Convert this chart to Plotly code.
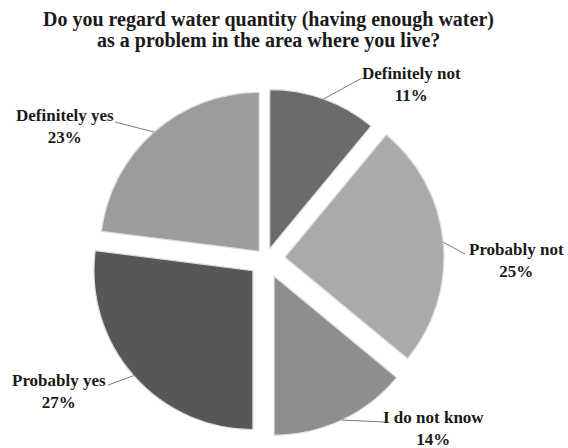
import math
import plotly.graph_objects as go

# Survey answers, clockwise from 12 o'clock
categories = ["Definitely not", "Probably not", "I do not know", "Probably yes", "Definitely yes"]
shares = [11, 25, 14, 27, 23]
slice_colors = ["#6b6b6b", "#aaaaaa", "#8e8e8e", "#575757", "#9c9c9c"]
pulls = [0.07, 0.12, 0.12, 0.11, 0.065]

title_lines = ["Do you regard water quantity (having enough water)",
               "as a problem in the area where you live?"]

W, H = 568, 448
FONT = "Liberation Serif, Times New Roman, serif"

# pie box (pixels) and label layout
pie_cx, pie_cy, pie_half = 266, 259, 178
label_centers = [(411, 85), (516, 260), (433, 428), (59, 391), (65, 127)]
leader_ends = [(362, 78), (465, 254), (385, 422), (108, 385), (115, 122)]
title_rows_y = [19, 40]

dom_x = [(pie_cx - pie_half) / W, (pie_cx + pie_half) / W]
dom_y = [1 - (pie_cy + pie_half) / H, 1 - (pie_cy - pie_half) / H]

fig = go.Figure(
    go.Pie(
        labels=categories,
        values=shares,
        sort=False,
        direction="clockwise",
        rotation=0,
        pull=pulls,
        marker=dict(colors=slice_colors, line=dict(color="#dcdcdc", width=1.2)),
        textinfo="none",
        hoverinfo="label+percent",
        domain=dict(x=dom_x, y=dom_y),
        showlegend=False,
    )
)

# radius as plotly computes it for a pulled pie
box = min((dom_x[1] - dom_x[0]) * W, (dom_y[1] - dom_y[0]) * H)
radius = box / (2 + 2 * max(pulls))
total = sum(shares)

shapes = []
annotations = []
start = 0.0
for name, v, p, (lx, ly), (ex, ey) in zip(categories, shares, pulls, label_centers, leader_ends):
    frac = v / total
    mid = (start + frac / 2) * 2 * math.pi
    start += frac
    rr = radius * (1 + p)
    ax_px = pie_cx + rr * math.sin(mid)
    ay_px = pie_cy - rr * math.cos(mid)
    shapes.append(dict(
        type="line", xref="paper", yref="paper",
        x0=ax_px / W, y0=1 - ay_px / H, x1=ex / W, y1=1 - ey / H,
        line=dict(color="#7a7a7a", width=1),
    ))
    annotations.append(dict(
        x=lx / W, y=1 - ly / H, xref="paper", yref="paper",
        text=f"{name}<br>{round(frac * 100)}%",
        showarrow=False, xanchor="center", yanchor="middle",
        font=dict(family=FONT, size=17, color="#1a1a1a", weight="bold"),
    ))

for line, ty in zip(title_lines, title_rows_y):
    annotations.append(dict(
        x=268 / W, y=1 - ty / H, xref="paper", yref="paper",
        text=line, showarrow=False, xanchor="center", yanchor="middle",
        font=dict(family=FONT, size=20, color="#1a1a1a", weight="bold"),
    ))

fig.update_layout(
    width=W, height=H,
    margin=dict(l=0, r=0, t=0, b=0),
    paper_bgcolor="white", plot_bgcolor="white",
    shapes=shapes, annotations=annotations,
)

fig.write_html("out.html")
